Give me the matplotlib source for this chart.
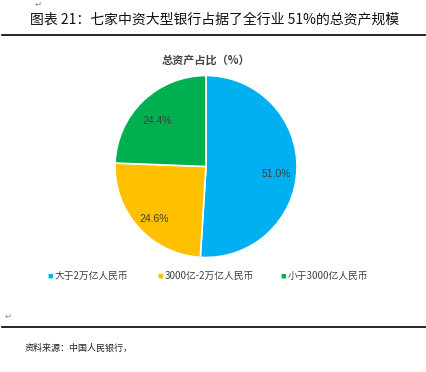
import numpy as np
import matplotlib.pyplot as plt
from matplotlib.lines import Line2D

plt.rcParams['font.family'] = ['Noto Sans CJK SC', 'DejaVu Sans']

labels = ["大于2万亿人民币", "3000亿-2万亿人民币", "小于3000亿人民币"]
shares = [51.0, 24.6, 24.4]
colors = ["#00B0F0", "#FFC000", "#00B050"]

W, H = 427, 372
fig = plt.figure(figsize=(W / 100, H / 100), dpi=100)

# header / footer text and rules
fig.text(30 / W, 1 - 19 / H, "图表 21：七家中资大型银行占据了全行业 51%的总资产规模",
         fontsize=10, va="center", ha="left", color="#111111")
fig.text(35 / W, 1 - 4 / H, "↵", fontsize=6, va="center", color="#888888")
fig.add_artist(Line2D([2 / W, 1], [1 - 35 / H] * 2, color="black", lw=1.2))
fig.text(206 / W, 1 - 60 / H, "总资产占比（%）", fontsize=8, fontweight="bold",
         ha="center", va="center", color="#444444")

R = 91
cx, cy = 206, 166.5
ax = fig.add_axes([(cx - R) / W, 1 - (cy + R) / H, 2 * R / W, 2 * R / H])
wedges, texts = ax.pie(shares, colors=colors, startangle=90, counterclock=False,
                       wedgeprops=dict(edgecolor="white", linewidth=1.2))
ax.set_xlim(-1, 1)
ax.set_ylim(-1, 1)
ax.set_aspect("equal")
for w, v in zip(wedges, shares):
    ang = np.deg2rad((w.theta1 + w.theta2) / 2)
    ax.text(0.77 * np.cos(ang), 0.77 * np.sin(ang) - 0.06, f"{v:.1f}%", fontsize=7.5,
            family="Liberation Sans", ha="center", va="center", color="#404040")

# legend
xs = [50, 160, 283]
for x, lab, c in zip(xs, labels, colors):
    fig.text(x / W, 1 - 276 / H, "■", fontsize=4, color=c, va="center", ha="center")
    fig.text((x + 5) / W, 1 - 276 / H, lab, fontsize=7, color="#404040", va="center")

fig.text(5 / W, 1 - 316 / H, "↵", fontsize=6, va="center", color="#888888")
fig.add_artist(Line2D([2 / W, 1], [1 - 327 / H] * 2, color="black", lw=1.2))
fig.text(25 / W, 1 - 348 / H, "资料来源：中国人民银行，", fontsize=6.5, style="italic",
         va="center", color="#222222")

fig.savefig("out.png", dpi=100)
